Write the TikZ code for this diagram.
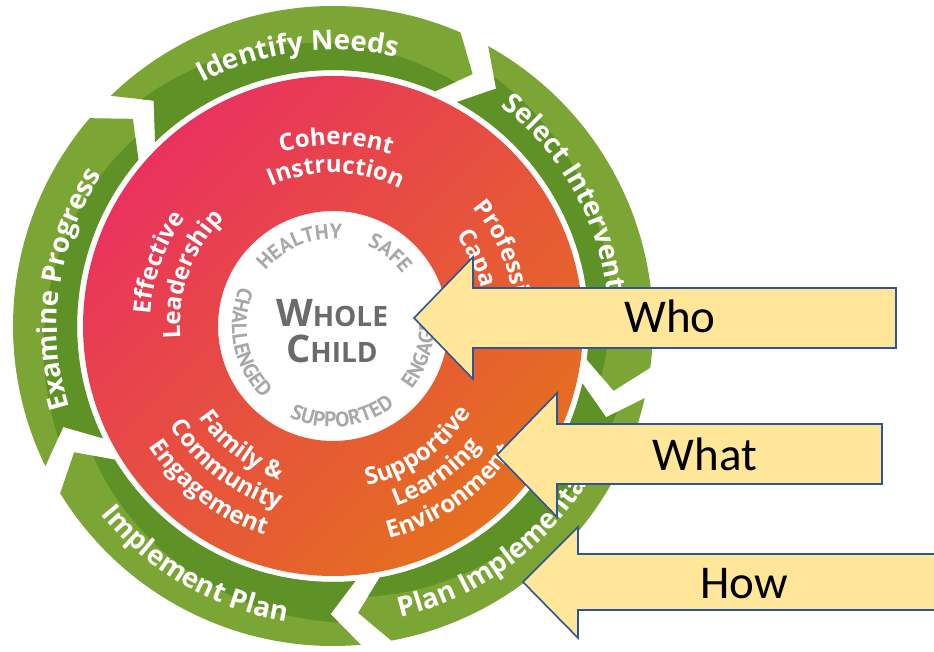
\documentclass[tikz,border=0pt]{standalone}
\usepackage{fontspec}
\setmainfont{Carlito}
\newfontfamily\wheelfont{Open Sans}
\newfontfamily\wordfont{PT Sans}
\usetikzlibrary{decorations.text}

\definecolor{greenlight}{HTML}{7BA534}
\definecolor{greendark}{HTML}{5E9126}
\definecolor{ringpink}{HTML}{E9325E}
\definecolor{ringorange}{HTML}{E5701E}
\definecolor{wordgray}{HTML}{A8A8A8}
\definecolor{wholegray}{HTML}{6B6B6B}
\definecolor{calloutfill}{HTML}{FFE699}
\definecolor{calloutline}{HTML}{2F5597}

\newcommand\greenfont{\wheelfont\bfseries\fontsize{27.5}{27.5}\selectfont}
\newcommand\redfont{\wheelfont\bfseries\fontsize{24}{24}\selectfont}
\newcommand\grayfont{\wordfont\bfseries\fontsize{21}{21}\selectfont}

\tikzset{>=latex,
  arctext/.style 2 args={decorate, decoration={text along path, text align=center, text color=#1, text={#2}}},
  callout/.style={fill=calloutfill, draw=calloutline, line width=1.6pt, line join=miter},
  calllabel/.style={anchor=base, font=\fontsize{47}{47}\selectfont},
}

\begin{document}
\begin{tikzpicture}[x=1pt,y=1pt]
  \useasboundingbox (0,0) rectangle (934,651);
  \fill[white] (0,0) rectangle (934,651);

  \begin{scope}[shift={(333,325)}]
  % red ring
  \shade[even odd rule, top color=ringpink, bottom color=ringorange, shading angle=45]
    (0,0) circle[radius=250pt] (0,0) circle[radius=115pt];

  % green cycle, tail angle / head angle
  \foreach \ta/\tb in {134/61, 61/-13, -13/-85, -85/-154, 206/134} {
    \begin{scope}
      \clip (\ta:320) arc[start angle=\ta, end angle=\tb+5.5, radius=320pt] -- (\tb:288)
        -- (\tb+5.5:256) arc[start angle=\tb+5.5, end angle=\ta, radius=256pt] -- (\ta-5.5:288) -- cycle;
      \fill[greenlight] (0,0) circle[radius=330pt];
      \fill[greendark] plot[domain=\ta+4:\tb-4, samples=40, variable=\a] (\a:{272+26*(\a-\tb)/(\ta-\tb)})
        -- (\tb-4:240) arc[start angle=\tb-4, end angle=\ta+4, radius=240pt] -- cycle;
    \end{scope}
  }

  % green labels
  \path[arctext={white}{|\greenfont|Identify Needs}] (147.5:276) arc[start angle=147.5, end angle=47.5, radius=276pt];
  \path[arctext={white}{|\greenfont|Select Interventions}] (74:276) arc[start angle=74, end angle=-26, radius=276pt];
  \path[arctext={white}{|\greenfont|Plan Implementation}] (-99:299) arc[start angle=-99, end angle=1, radius=299pt];
  \path[arctext={white}{|\greenfont|Implement Plan}] (-170:299) arc[start angle=-170, end angle=-70, radius=299pt];
  \path[arctext={white}{|\greenfont|Examine Progress}] (222:276) arc[start angle=222, end angle=122, radius=276pt];

  % red labels
  \path[arctext={white}{|\redfont|Coherent}] (149:181) arc[start angle=149, end angle=29, radius=181pt];
  \path[arctext={white}{|\redfont|Instruction}] (149:153) arc[start angle=149, end angle=29, radius=153pt];
  \path[arctext={white}{|\redfont|Professional}] (77:183) arc[start angle=77, end angle=-43, radius=183pt];
  \path[arctext={white}{|\redfont|Capacity}] (77:153) arc[start angle=77, end angle=-43, radius=153pt];
  \path[arctext={white}{|\redfont|Effective}] (220:183) arc[start angle=220, end angle=100, radius=183pt];
  \path[arctext={white}{|\redfont|Leadership}] (220:153) arc[start angle=220, end angle=100, radius=153pt];
  \path[arctext={white}{|\redfont|Family {\&}}] (-187.5:163) arc[start angle=-187.5, end angle=-67.5, radius=163pt];
  \path[arctext={white}{|\redfont|Community}] (-187.5:191) arc[start angle=-187.5, end angle=-67.5, radius=191pt];
  \path[arctext={white}{|\redfont|Engagement}] (-187.5:220) arc[start angle=-187.5, end angle=-67.5, radius=220pt];
  \path[arctext={white}{|\redfont|Supportive}] (-115:163) arc[start angle=-115, end angle=5, radius=163pt];
  \path[arctext={white}{|\redfont|Learning}] (-115:191) arc[start angle=-115, end angle=5, radius=191pt];
  \path[arctext={white}{|\redfont|Environment}] (-115:220) arc[start angle=-115, end angle=5, radius=220pt];

  % gray words
  \path[arctext={wordgray}{|\grayfont|HEALTHY}] (162.5:87) arc[start angle=162.5, end angle=62.5, radius=87pt];
  \path[arctext={wordgray}{|\grayfont|SAFE}] (102:87) arc[start angle=102, end angle=2, radius=87pt];
  \path[arctext={wordgray}{|\grayfont|ENGAGED}] (-64:101) arc[start angle=-64, end angle=36, radius=101pt];
  \path[arctext={wordgray}{|\grayfont|SUPPORTED}] (-134:101) arc[start angle=-134, end angle=-34, radius=101pt];
  \path[arctext={wordgray}{|\grayfont|CHALLENGED}] (141.5:101) arc[start angle=141.5, end angle=241.5, radius=101pt];

  \node[anchor=base, text=wholegray, font=\wheelfont\bfseries] (whole) at (-1,-1)
    {\fontsize{38}{38}\selectfont W\fontsize{28}{28}\selectfont HOLE};
  \node[anchor=base, text=wholegray, font=\wheelfont\bfseries] (child) at (-1,-37)
    {\fontsize{38}{38}\selectfont C\fontsize{28}{28}\selectfont HILD};
  \end{scope}

  % callouts
  \draw[callout] (414,333) -- (473,394) -- (473,363) -- (896,363) -- (896,303) -- (473,303) -- (473,272) -- cycle;
  \node[calllabel] (who) at (670,318) {Who};
  \draw[callout] (497,196) -- (557,258) -- (557,227) -- (882,227) -- (882,167) -- (557,167) -- (557,134) -- cycle;
  \node[calllabel] (what) at (705,181) {What};
  \draw[callout] (523,69) -- (578,124) -- (578,97) -- (950,97) -- (950,41) -- (578,41) -- (578,13) -- cycle;
  \node[calllabel] (how) at (744,53) {How};
\end{tikzpicture}
\end{document}
